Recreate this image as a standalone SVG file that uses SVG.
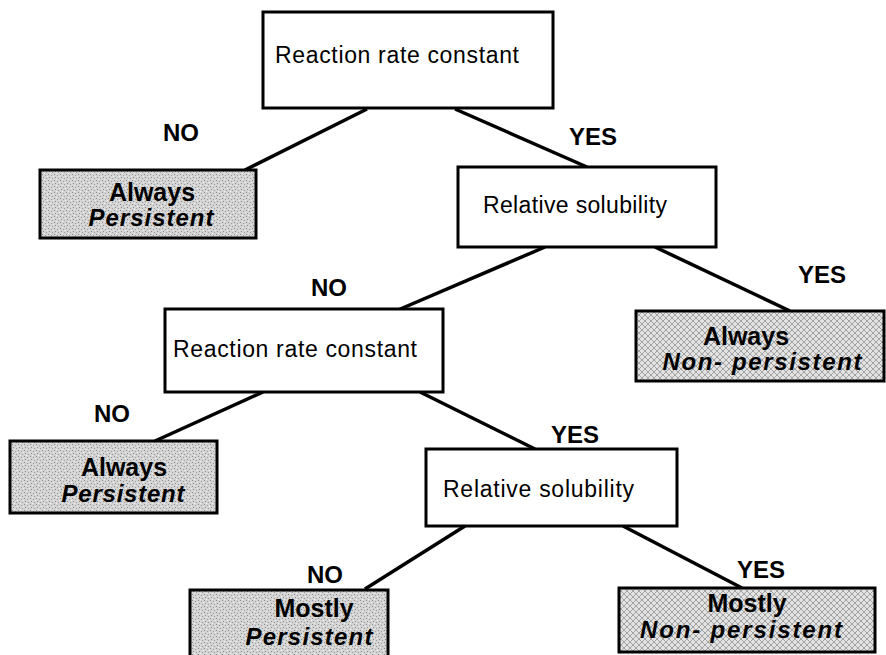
<svg xmlns="http://www.w3.org/2000/svg" width="886" height="655" viewBox="0 0 886 655">
<defs>
<pattern id="stip" width="6" height="6" patternUnits="userSpaceOnUse">
<rect width="6" height="6" fill="#d4d4d4"/>
<rect x="0" y="0" width="1" height="1" fill="#8a8a8a"/>
<rect x="3" y="1" width="1" height="1" fill="#9a9a9a"/>
<rect x="1" y="3" width="1" height="1" fill="#8a8a8a"/>
<rect x="4" y="4" width="1" height="1" fill="#9a9a9a"/>
<rect x="5" y="2" width="1" height="1" fill="#f0f0f0"/>
<rect x="2" y="5" width="1" height="1" fill="#f0f0f0"/>
</pattern>
<pattern id="hatch" width="6" height="6" patternUnits="userSpaceOnUse">
<rect width="6" height="6" fill="#e2e2e2"/>
<path d="M0,0 L6,6 M6,0 L0,6" stroke="#9c9c9c" stroke-width="0.9"/>
</pattern>
</defs>
<style>
.box{fill:#fff;stroke:#000;stroke-width:3}
.per{fill:url(#stip);stroke:#000;stroke-width:3}
.non{fill:url(#hatch);stroke:#000;stroke-width:3}
.t{font-family:"Liberation Sans",Arial,sans-serif;font-size:23px;fill:#000}
.lbl{font-family:"Liberation Sans",Arial,sans-serif;font-size:24px;font-weight:bold;fill:#000}
.lb{font-family:"Liberation Sans",Arial,sans-serif;font-size:25px;font-weight:bold;fill:#000;text-anchor:middle}
.li{font-family:"Liberation Sans",Arial,sans-serif;font-size:24px;font-weight:bold;font-style:italic;fill:#000;text-anchor:middle}
.c line{stroke:#000;stroke-width:3.5}
</style>
<rect width="886" height="655" fill="#fff"/>
<g class="c" id="connectors">
<line x1="367" y1="109" x2="245" y2="170"/>
<line x1="455" y1="109" x2="587" y2="167"/>
<line x1="545" y1="247" x2="398" y2="310"/>
<line x1="655" y1="247" x2="790" y2="311"/>
<line x1="263" y1="392" x2="155" y2="441"/>
<line x1="420" y1="392" x2="535" y2="449"/>
<line x1="465" y1="526" x2="365" y2="589"/>
<line x1="623" y1="526" x2="742" y2="588"/>
<text class="lbl" x="163" y="141">NO</text>
<text class="lbl" x="569" y="145">YES</text>
<text class="lbl" x="311" y="296">NO</text>
<text class="lbl" x="798" y="283">YES</text>
<text class="lbl" x="94" y="422">NO</text>
<text class="lbl" x="551" y="443">YES</text>
<text class="lbl" x="307" y="583">NO</text>
<text class="lbl" x="737" y="578">YES</text>
</g>
<g id="q1">
<rect class="box" x="263" y="12" width="290" height="96"/>
<text class="t" x="275" y="63" textLength="244">Reaction rate constant</text>
</g>
<g id="q2">
<rect class="box" x="458" y="167" width="258" height="80"/>
<text class="t" x="483" y="213" textLength="184">Relative solubility</text>
</g>
<g id="q3">
<rect class="box" x="165" y="309" width="278" height="83"/>
<text class="t" x="173" y="357" textLength="244">Reaction rate constant</text>
</g>
<g id="q4">
<rect class="box" x="426" y="449" width="251" height="77"/>
<text class="t" x="443" y="497" textLength="191">Relative solubility</text>
</g>
<g id="leaf1">
<rect class="per" x="40" y="170" width="216" height="68"/>
<text class="lb" x="152" y="201">Always</text>
<text class="li" x="151" y="226" textLength="125">Persistent</text>
</g>
<g id="leaf2">
<rect class="per" x="10" y="441" width="207" height="72"/>
<text class="lb" x="124" y="476">Always</text>
<text class="li" x="123" y="502" textLength="123">Persistent</text>
</g>
<g id="leaf3">
<rect class="non" x="636" y="311" width="248" height="70"/>
<text class="lb" x="746" y="345">Always</text>
<text class="li" x="762" y="370" textLength="199">Non- persistent</text>
</g>
<g id="leaf4">
<rect class="per" x="190" y="590" width="198" height="75"/>
<text class="lb" x="314" y="617">Mostly</text>
<text class="li" x="309" y="645" textLength="127">Persistent</text>
</g>
<g id="leaf5">
<rect class="non" x="619" y="588" width="256" height="64"/>
<text class="lb" x="747" y="612">Mostly</text>
<text class="li" x="741" y="638" textLength="202">Non- persistent</text>
</g>
</svg>
